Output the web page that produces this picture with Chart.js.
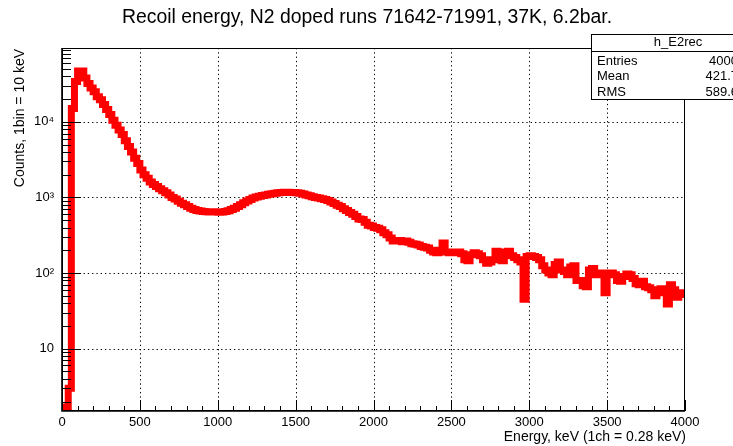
<!DOCTYPE html>
<html><head><meta charset="utf-8">
<script src="https://cdn.jsdelivr.net/npm/chart.js@4/dist/chart.umd.min.js"></script>
<style>html,body{margin:0;padding:0;background:#fff;}canvas{display:block;}</style>
</head><body>
<canvas id="c" width="733" height="446"></canvas>
<script>
const chartTitle = 'Recoil energy, N2 doped runs 71642-71991, 37K, 6.2bar.';
const xAxisTitle = 'Energy, keV (1ch = 0.28 keV)';
const yAxisTitle = 'Counts, 1bin = 10 keV';
const BIN_WIDTH_KEV = 20;
// counts per 10 keV in 20 keV steps (bin low edge = index * 20 keV)
const counts = [
  1, 1.7, 3, 15000, 34000, 47000, 47000, 38000, 32000, 28000,
  25000, 21500, 19500, 17000, 14500, 12500, 10500, 9000, 7800, 6800,
  5600, 4700, 4000, 3300, 2800, 2300, 2000, 1800, 1600, 1480,
  1400, 1300, 1230, 1150, 1080, 1000, 950, 890, 840, 800,
  760, 720, 690, 670, 660, 650, 645, 640, 645, 640,
  635, 640, 650, 665, 690, 720, 760, 800, 850, 900,
  940, 980, 1010, 1040, 1060, 1080, 1100, 1120, 1140, 1150,
  1160, 1170, 1170, 1165, 1160, 1150, 1140, 1110, 1080, 1050,
  1020, 1000, 980, 960, 940, 910, 870, 830, 790, 760,
  710, 670, 630, 600, 560, 520, 510, 470, 430, 420,
  400, 390, 375, 340, 320, 290, 265, 265, 270, 260,
  265, 255, 245, 240, 235, 225, 220, 215, 200, 190,
  185, 200, 250, 190, 185, 190, 185, 190, 180, 150,
  145, 175, 185, 180, 170, 150, 135, 140, 150, 195,
  170, 145, 190, 195, 170, 160, 150, 140, 45, 165,
  170, 165, 160, 150, 125, 110, 100, 95, 130, 140,
  110, 105, 95, 120, 125, 80, 80, 68, 66, 110,
  115, 95, 100, 100, 55, 95, 100, 95, 80, 78,
  90, 97, 95, 85, 72, 70, 78, 66, 64, 60,
  50, 56, 62, 55, 39, 70, 60, 48, 55, 52
];
const xTickValues = [0, 500, 1000, 1500, 2000, 2500, 3000, 3500, 4000];
const xTickLabels = ['0', '500', '1000', '1500', '2000', '2500', '3000', '3500', '4000'];
const yTickValues = [10, 100, 1000, 10000];
const yTickLabels = ['10', '10\u00B2', '10\u00B3', '10\u2074'];
const statsName = 'h_E2rec';
const statsLabels = ['Entries', 'Mean', 'RMS'];
const statsValues = ['4000', '421.7', '589.6'];

const FONT = '"Liberation Sans", Arial, Helvetica, sans-serif';

const points = counts.map((c, i) => ({ x: i * BIN_WIDTH_KEV, y: c }));
points.push({ x: counts.length * BIN_WIDTH_KEV, y: counts[counts.length - 1] });

const rootStyle = {
  id: 'rootStyle',
  beforeDatasetsDraw(chart) {
    const { ctx, chartArea: a, scales: { x, y } } = chart;
    ctx.save();
    ctx.strokeStyle = '#000';
    ctx.lineWidth = 1;
    ctx.setLineDash([1.3, 3]);
    xTickValues.slice(1, -1).forEach(v => {
      const px = Math.round(x.getPixelForValue(v)) + 0.5;
      ctx.beginPath(); ctx.moveTo(px, a.top); ctx.lineTo(px, a.bottom); ctx.stroke();
    });
    yTickValues.forEach(v => {
      const py = Math.round(y.getPixelForValue(v)) + 0.5;
      ctx.beginPath(); ctx.moveTo(a.left, py); ctx.lineTo(a.right, py); ctx.stroke();
    });
    ctx.restore();
  },
  afterDatasetsDraw(chart) {
    const { ctx, chartArea: a, scales: { x, y } } = chart;
    ctx.save();
    ctx.strokeStyle = '#000';
    ctx.setLineDash([]);
    ctx.lineWidth = 1;
    for (let v = 0; v <= 4000; v += 100) {
      const px = Math.round(x.getPixelForValue(v)) + 0.5;
      const len = v % 500 === 0 ? 11 : 5;
      ctx.beginPath(); ctx.moveTo(px, a.bottom); ctx.lineTo(px, a.bottom - len); ctx.stroke();
    }
    for (let d = 1; d <= 10000; d *= 10) {
      for (let m = 1; m <= 9; m++) {
        const v = d * m;
        if (v < y.min || v > y.max) continue;
        const py = Math.round(y.getPixelForValue(v)) + 0.5;
        const len = m === 1 ? 19 : 9;
        ctx.beginPath(); ctx.moveTo(a.left, py); ctx.lineTo(a.left + len, py); ctx.stroke();
      }
    }
    ctx.lineWidth = 1;
    ctx.strokeRect(a.left + 0.5, a.top + 0.5, a.right - a.left - 1, a.bottom - a.top - 1);
    ctx.lineWidth = 1.6;
    ctx.beginPath();
    ctx.moveTo(a.left, a.top); ctx.lineTo(a.left, a.bottom); ctx.lineTo(a.right, a.bottom);
    ctx.stroke();
    ctx.restore();
  },
  afterDraw(chart) {
    const { ctx, chartArea: a } = chart;
    ctx.save();
    ctx.fillStyle = '#000';
    ctx.font = '19.4px ' + FONT;
    ctx.textAlign = 'center'; ctx.textBaseline = 'middle';
    ctx.fillText(chartTitle, 367, 18);
    ctx.font = '14px ' + FONT;
    ctx.textAlign = 'right';
    ctx.fillText(xAxisTitle, a.right + 1, 437);
    ctx.save();
    ctx.translate(20, a.top + 1);
    ctx.rotate(-Math.PI / 2);
    ctx.textAlign = 'right';
    ctx.fillText(yAxisTitle, 0, 0);
    ctx.restore();
    const bx = 591, by = 34, bw = 200, bh = 65;
    ctx.fillStyle = '#fff';
    ctx.fillRect(bx, by, bw, bh);
    ctx.strokeStyle = '#000'; ctx.lineWidth = 1;
    ctx.strokeRect(bx + 0.5, by + 0.5, bw, bh);
    ctx.beginPath(); ctx.moveTo(bx, by + 17.5); ctx.lineTo(bx + bw, by + 17.5); ctx.stroke();
    ctx.fillStyle = '#000';
    ctx.font = '13px ' + FONT;
    ctx.textAlign = 'center';
    ctx.fillText(statsName, 678, by + 8.5);
    const rowsY = [61, 76.5, 92];
    statsLabels.forEach((lab, i) => {
      ctx.textAlign = 'left';
      ctx.fillText(lab, 597, rowsY[i]);
      ctx.textAlign = 'right';
      ctx.fillText(statsValues[i], 738, rowsY[i]);
    });
    ctx.restore();
  }
};

new Chart(document.getElementById('c'), {
  type: 'line',
  data: {
    datasets: [{
      data: points,
      borderColor: '#ff0000',
      backgroundColor: '#ff0000',
      borderWidth: 7,
      stepped: true,
      pointRadius: 0,
      fill: false,
      tension: 0,
      borderJoinStyle: 'miter',
      borderCapStyle: 'butt'
    }]
  },
  options: {
    responsive: false,
    animation: false,
    devicePixelRatio: 1,
    layout: { padding: { top: 48, right: 48, bottom: 0, left: 0 } },
    plugins: { legend: { display: false }, tooltip: { enabled: false }, title: { display: false } },
    scales: {
      x: {
        type: 'linear', min: 0, max: 4000,
        afterBuildTicks: s => { s.ticks = xTickValues.map(v => ({ value: v })); },
        afterFit: s => { s.height = 35; },
        grid: { display: false, drawTicks: false },
        border: { display: false },
        ticks: {
          callback: (v, i) => xTickLabels[i],
          font: { family: FONT, size: 13 }, color: '#000', padding: 4,
          maxRotation: 0, autoSkip: false
        }
      },
      y: {
        type: 'logarithmic', min: 1.5, max: 94600,
        afterBuildTicks: s => { s.ticks = yTickValues.map(v => ({ value: v })); },
        afterFit: s => { s.width = 62; },
        grid: { display: false, drawTicks: false },
        border: { display: false },
        ticks: {
          callback: (v, i) => yTickLabels[i],
          font: { family: FONT, size: 13 }, color: '#000', padding: 8,
          autoSkip: false
        }
      }
    }
  },
  plugins: [rootStyle]
});
</script>
</body></html>
